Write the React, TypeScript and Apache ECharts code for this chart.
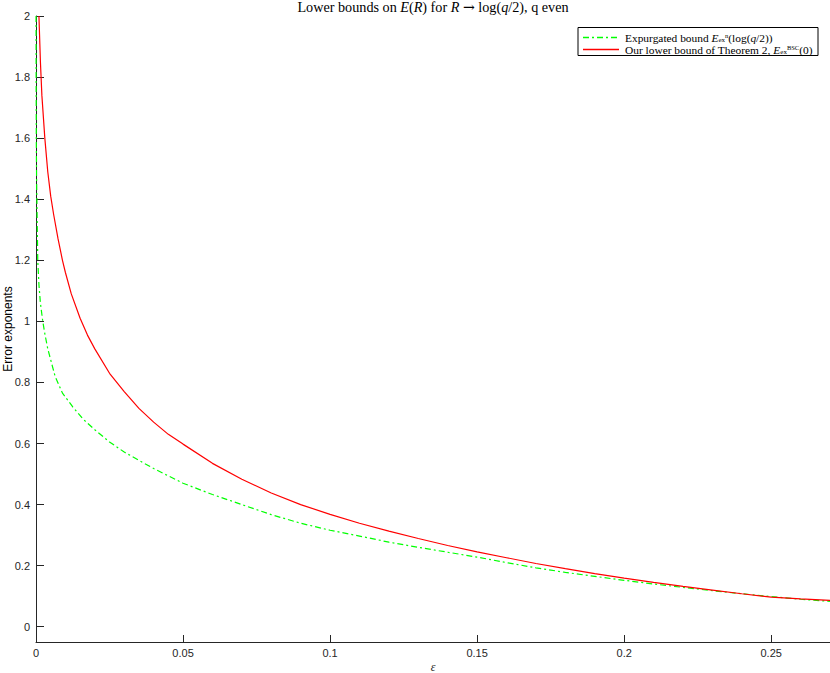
import React, { useEffect, useRef } from "react";
import * as echarts from "echarts";

// ---- data ----
const xTicks = [0, 0.05, 0.1, 0.15, 0.2, 0.25];
const yTicks = [0, 0.2, 0.4, 0.6, 0.8, 1, 1.2, 1.4, 1.6, 1.8, 2];

const redEps = [
  0.001, 0.0015, 0.002, 0.003, 0.004, 0.005, 0.006, 0.0075, 0.009, 0.01, 0.012, 0.015, 0.0175, 0.02,
  0.025, 0.03, 0.035, 0.04, 0.045, 0.05, 0.06, 0.07, 0.08, 0.09, 0.1, 0.11, 0.12, 0.13, 0.14, 0.15,
  0.16, 0.17, 0.18, 0.19, 0.2, 0.21, 0.22, 0.23, 0.24, 0.25, 0.26, 0.27,
];
const redVals = [
  2.0, 1.85, 1.74, 1.6, 1.49, 1.41, 1.35, 1.27, 1.2, 1.16, 1.09, 1.01, 0.955, 0.91,
  0.83, 0.77, 0.715, 0.67, 0.63, 0.598, 0.535, 0.483, 0.438, 0.4, 0.368, 0.339, 0.313, 0.289, 0.266, 0.245,
  0.226, 0.207, 0.19, 0.174, 0.159, 0.145, 0.132, 0.12, 0.108, 0.097, 0.091, 0.086,
];

const greenEps = [
  0.00002, 0.00005, 0.0001, 0.0002, 0.0003, 0.0006, 0.001, 0.0015, 0.0023, 0.003, 0.004, 0.0065,
  0.009, 0.0125, 0.016, 0.02, 0.025, 0.03, 0.04, 0.05, 0.06, 0.07, 0.08, 0.09, 0.1, 0.11, 0.12,
  0.13, 0.14, 0.15, 0.16, 0.17, 0.18, 0.19, 0.2, 0.21, 0.22, 0.23, 0.24, 0.25, 0.26, 0.27,
];
const greenVals = [
  2.0, 1.78, 1.6, 1.47, 1.4, 1.2, 1.12, 1.06, 1.0, 0.96, 0.91, 0.82,
  0.765, 0.72, 0.68, 0.645, 0.605, 0.572, 0.518, 0.47, 0.433, 0.4, 0.367, 0.339, 0.316, 0.297, 0.277,
  0.26, 0.244, 0.228, 0.21, 0.193, 0.178, 0.165, 0.152, 0.14, 0.129, 0.118, 0.108, 0.099, 0.09, 0.083,
];

const SERIF = '"Liberation Serif", "DejaVu Serif", serif';
const SANS = '"Liberation Sans", Arial, sans-serif';

export default function App() {
  const ref = useRef<HTMLDivElement>(null);
  useEffect(() => {
    if (!ref.current) return;
    const chart = echarts.init(ref.current, null, { renderer: "svg" });

    const gLeft = 36, gRight = 0, gTop = 16, gBottom = 31;

    const ts = 14.2;
    const titleRich = {
      n: { fontSize: ts, fontFamily: SERIF, color: "#000", lineHeight: 15 },
      i: { fontSize: ts, fontFamily: SERIF, fontStyle: "italic", color: "#000", lineHeight: 15 },
      a: { fontSize: ts, fontFamily: '"DejaVu Serif", serif', color: "#000", lineHeight: 15 },
    };

    const fs = 11.4;
    const lh = 12;
    const legRich = {
      n: { fontSize: fs, fontFamily: SERIF, color: "#000", lineHeight: lh },
      i: { fontSize: fs, fontFamily: SERIF, fontStyle: "italic", color: "#000", lineHeight: lh },
      sub: { fontSize: 7, fontFamily: SERIF, color: "#000", lineHeight: 7, verticalAlign: "bottom" },
      sup: { fontSize: 6.5, fontFamily: SERIF, color: "#000", lineHeight: 7, verticalAlign: "top" },
    };

    const r1y = 37.5, r2y = 49.5;
    const graphics: any[] = [
      {
        type: "text",
        x: 433,
        y: 7,
        silent: true,
        style: {
          text:
            "{n|Lower bounds on }{i|E}{n|(}{i|R}{n|) for }{i|R}{n| }{a|\u2192}{n| log(}{i|q}{n|/2), q even}",
          rich: titleRich,
          align: "center",
          verticalAlign: "middle",
        },
      },
      {
        type: "rect",
        shape: { x: 578, y: 27.5, width: 240, height: 28 },
        style: { fill: "#ffffff", stroke: "#000000", lineWidth: 1 },
        silent: true,
        z: 10,
      },
      {
        type: "polyline",
        shape: { points: [[583, r1y], [619, r1y]] },
        style: { stroke: "#00ff00", fill: null, lineWidth: 1.3, lineDash: [6, 3, 2, 3] },
        silent: true,
        z: 11,
      },
      {
        type: "polyline",
        shape: { points: [[583, r2y], [619, r2y]] },
        style: { stroke: "#ff0000", fill: null, lineWidth: 1.3 },
        silent: true,
        z: 11,
      },
      {
        type: "text",
        x: 625,
        y: r1y,
        silent: true,
        z: 11,
        style: {
          text: "{n|Expurgated bound }{i|E}{sub|ex}{sup|n}{n|(log(}{i|q}{n|/2))}",
          rich: legRich,
          align: "left",
          verticalAlign: "middle",
        },
      },
      {
        type: "text",
        x: 625,
        y: r2y,
        silent: true,
        z: 11,
        style: {
          text: "{n|Our lower bound of Theorem 2, }{i|E}{sub|ex}{sup|BSC}{n|(0)}",
          rich: legRich,
          align: "left",
          verticalAlign: "middle",
        },
      },
    ];

    const axisCommon = {
      axisLine: { show: true, onZero: false, lineStyle: { color: "#262626", width: 1 } },
      splitLine: { show: false },
    };

    chart.setOption({
      animation: false,
      backgroundColor: "#ffffff",
      grid: {
        left: gLeft,
        right: gRight,
        top: gTop,
        bottom: gBottom,
        containLabel: false,
        outerBoundsMode: "none",
      },
      xAxis: {
        type: "value",
        min: 0,
        max: 0.27,
        ...axisCommon,
        axisTick: { show: true, inside: true, length: 7, customValues: xTicks, lineStyle: { color: "#262626" } },
        axisLabel: {
          customValues: xTicks,
          color: "#262626",
          fontSize: 11,
          fontFamily: SANS,
          margin: 5,
          formatter: (v: number) => String(v),
        },
        name: "\u03b5",
        nameLocation: "middle",
        nameGap: 19,
        nameMoveOverlap: false,
        nameTextStyle: { fontFamily: SERIF, fontStyle: "italic", fontSize: 12, color: "#262626" },
      },
      yAxis: {
        type: "value",
        min: -0.05,
        max: 2,
        ...axisCommon,
        axisTick: { show: true, inside: true, length: 8, customValues: yTicks, lineStyle: { color: "#262626" } },
        axisLabel: {
          customValues: yTicks,
          color: "#262626",
          fontSize: 11,
          fontFamily: SANS,
          margin: 6,
          formatter: (v: number) => String(v),
        },
        name: "Error exponents",
        nameLocation: "middle",
        nameGap: 22,
        nameMoveOverlap: false,
        nameTextStyle: { fontFamily: SANS, fontSize: 12, color: "#000" },
      },
      series: [
        {
          name: "Expurgated bound",
          type: "line",
          data: greenEps.map((e, i) => [e, greenVals[i]]),
          showSymbol: false,
          symbol: "none",
          smooth: false,
          clip: true,
          lineStyle: { color: "#00ff00", width: 1.2, type: [6, 3, 2, 3] },
          itemStyle: { color: "#00ff00" },
          z: 2,
        },
        {
          name: "Our lower bound of Theorem 2",
          type: "line",
          data: redEps.map((e, i) => [e, redVals[i]]),
          showSymbol: false,
          symbol: "none",
          smooth: false,
          clip: true,
          lineStyle: { color: "#ff0000", width: 1.2 },
          itemStyle: { color: "#ff0000" },
          z: 3,
        },
      ],
      graphic: graphics,
    });

    return () => chart.dispose();
  }, []);

  return (
    <div
      ref={ref}
      style={{ position: "fixed", left: 0, top: 0, width: 830, height: 673, background: "#fff" }}
    />
  );
}
